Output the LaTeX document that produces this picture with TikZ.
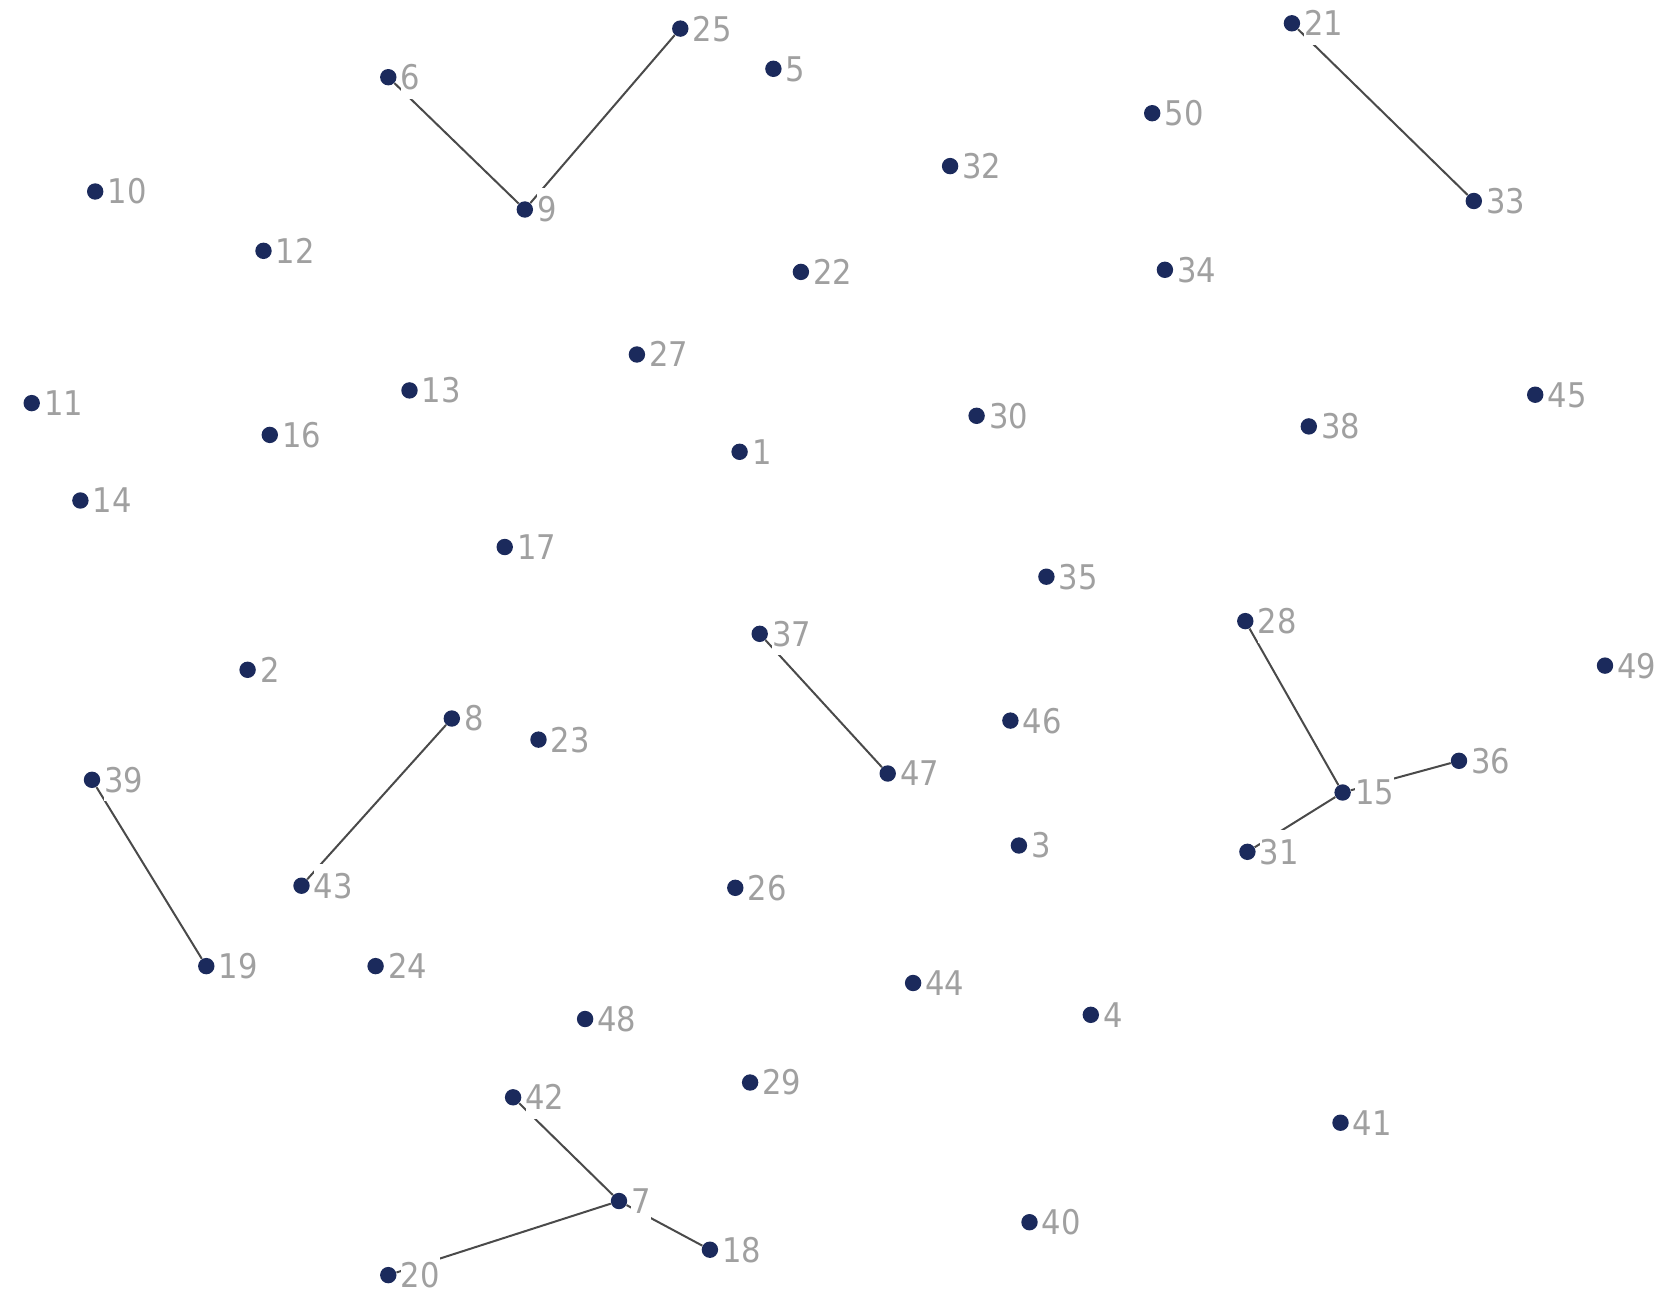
\documentclass[tikz,border=0pt]{standalone}
\usepackage{fontspec}
\setmainfont{DejaVu Sans Condensed}
\definecolor{dotc}{HTML}{1B2A5C}
\definecolor{labc}{HTML}{A0A0A0}
\definecolor{edgec}{HTML}{4A4A4A}
\begin{document}
\begin{tikzpicture}[x=0.5pt,y=-0.5pt,
 pt/.style={circle,fill=dotc,inner sep=0pt,minimum size=8.2pt},
 lab/.style={anchor=west,fill=white,text=labc,inner xsep=0pt,inner ysep=0pt,text height=17pt,text depth=4.6pt,font=\fontsize{17}{17}\selectfont},
 edge/.style={draw=edgec,line width=1pt}]
\useasboundingbox[fill=white] (0,0) rectangle (1659,1292);
\foreach \n/\x/\y in {
25/680.3/28.6, 5/773.4/68.8, 6/388.3/77.2, 9/524.8/209.5, 10/95.2/191.5,
12/263.5/250.8, 21/1291.9/23.3, 50/1152.2/113.2, 32/950.1/166.1, 33/1473.8/201.0,
34/1164.9/269.8, 22/800.9/271.9, 27/636.9/354.5, 13/409.5/390.4, 11/31.7/403.1,
16/269.8/434.9, 30/976.6/415.8, 38/1308.8/426.4, 45/1535.2/394.7, 1/739.6/451.8,
14/80.4/500.5, 17/504.7/547.0, 35/1046.4/576.7, 28/1245.3/621.1, 37/759.7/633.8,
49/1605.0/665.6, 2/247.6/669.8, 46/1010.4/720.6, 8/451.8/718.5, 23/538.5/739.6,
39/92.0/779.8, 47/887.7/773.5, 36/1459.0/760.8, 15/1342.6/792.5, 31/1247.4/851.8,
3/1018.9/845.5, 43/301.5/885.7, 26/735.3/887.8, 19/206.3/966.1, 24/375.6/966.1,
44/913.1/983.0, 4/1090.8/1014.8, 48/585.1/1019.0, 29/750.1/1082.5, 42/513.1/1097.3,
41/1340.5/1122.7, 7/619.0/1201.0, 40/1029.5/1222.2, 18/709.9/1249.7, 20/388.3/1275.1}
{ \node[pt] (d\n) at (\x,\y) {}; }
\foreach \a/\b in {6/9, 9/25, 21/33, 37/47, 28/15, 15/36, 15/31, 8/43, 39/19, 42/7, 7/20, 7/18}
{ \draw[edge] (d\a) -- (d\b); }
\foreach \n in {1,...,50}
{ \node[lab] (l\n) at ([xshift=6pt]d\n.center) {\n}; }
\end{tikzpicture}
\end{document}
